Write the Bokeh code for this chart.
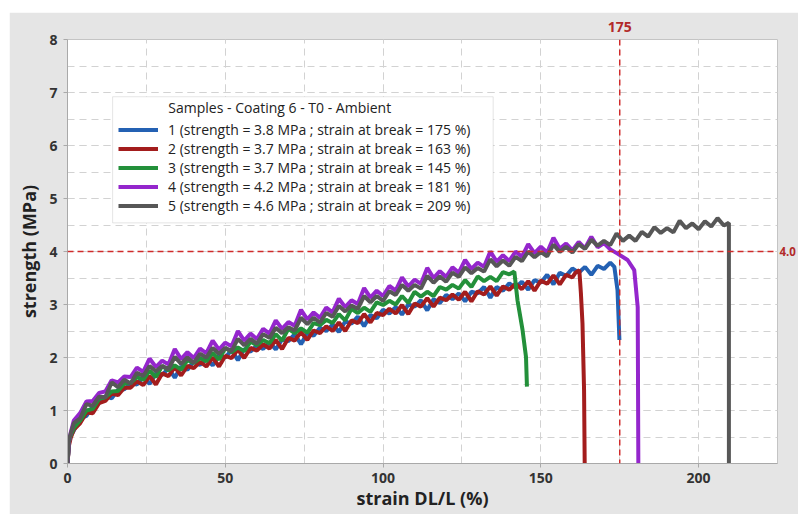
from bokeh.plotting import figure
from bokeh.models import (Range1d, SingleIntervalTicker, FixedTicker, Span, Label,
                          BoxAnnotation, LinearAxis, PrintfTickFormatter)
from bokeh.embed import file_html
from bokeh.resources import INLINE

FONT = "Open Sans"

# ---------------- data ----------------
sample_ids = [1, 2, 3, 4, 5]
sample_strength = [3.8, 3.7, 3.7, 4.2, 4.6]
sample_strain_break = [175, 163, 145, 181, 209]
legend_title = "Samples - Coating 6 - T0 - Ambient"
ref_strain = 175
ref_strength = 4.0
x_axis_title = "strain DL/L (%)"
y_axis_title = "strength (MPa)"

s1_x = [0, 0.5, 1, 2, 4, 6, 8, 10, 12, 14, 16, 18, 20, 22, 24, 26, 28, 30, 32, 34, 36, 38, 40,
        42, 44, 46, 48, 50, 52, 54, 56, 58, 60, 62, 64, 66, 68, 70, 72, 74, 76, 78, 80, 82, 84,
        86, 88, 90, 92, 94, 96, 98, 100, 102, 104, 106, 108, 110, 112, 114, 116, 118, 120, 122,
        124, 126, 128, 130, 132, 134, 136, 138, 140, 142, 144, 146, 148, 150, 152, 154, 156, 158,
        160, 162, 164, 166, 168, 170, 172, 173.3, 174.3, 174.9]
s1_y = [0, 0.40, 0.52, 0.62, 0.85, 0.90, 1.08, 1.14, 1.27, 1.23, 1.39, 1.40, 1.52, 1.49, 1.63,
        1.50, 1.70, 1.67, 1.80, 1.62, 1.83, 1.77, 1.93, 1.86, 1.98, 1.85, 2.04, 2.00, 2.14, 1.95,
        2.16, 2.11, 2.23, 2.16, 2.29, 2.15, 2.34, 2.31, 2.44, 2.25, 2.47, 2.41, 2.56, 2.50, 2.62,
        2.48, 2.68, 2.64, 2.77, 2.59, 2.80, 2.74, 2.90, 2.83, 2.95, 2.81, 3.00, 2.96, 3.08, 2.89,
        3.10, 3.03, 3.18, 3.10, 3.21, 3.06, 3.24, 3.21, 3.33, 3.13, 3.33, 3.26, 3.40, 3.32, 3.43,
        3.28, 3.46, 3.41, 3.56, 3.38, 3.60, 3.54, 3.68, 3.60, 3.71, 3.56, 3.73, 3.67, 3.79, 3.71,
        3.27, 2.33]

s2_x = [0, 0.5, 1, 2, 4, 6, 8, 10, 12, 14, 16, 18, 20, 22, 24, 26, 28, 30, 32, 34, 36, 38, 40,
        42, 44, 46, 48, 50, 52, 54, 56, 58, 60, 62, 64, 66, 68, 70, 72, 74, 76, 78, 80, 82, 84,
        86, 88, 90, 92, 94, 96, 98, 100, 102, 104, 106, 108, 110, 112, 114, 116, 118, 120, 122,
        124, 126, 128, 130, 132, 134, 136, 138, 140, 142, 144, 146, 148, 150, 152, 154, 156, 158,
        160, 161, 162.2, 162.7, 163.2, 163.7, 163.9]
s2_y = [0, 0.35, 0.48, 0.64, 0.76, 0.96, 0.95, 1.14, 1.18, 1.32, 1.29, 1.43, 1.43, 1.55, 1.48,
        1.65, 1.49, 1.70, 1.65, 1.82, 1.66, 1.84, 1.80, 1.92, 1.83, 2.00, 1.83, 2.03, 1.99, 2.15,
        1.99, 2.18, 2.13, 2.25, 2.17, 2.33, 2.16, 2.37, 2.32, 2.48, 2.33, 2.51, 2.46, 2.59, 2.50,
        2.66, 2.50, 2.70, 2.65, 2.82, 2.66, 2.84, 2.80, 2.92, 2.83, 2.99, 2.82, 3.02, 2.96, 3.12,
        2.96, 3.13, 3.08, 3.19, 3.09, 3.24, 3.06, 3.25, 3.19, 3.34, 3.17, 3.34, 3.28, 3.39, 3.29,
        3.44, 3.26, 3.45, 3.39, 3.55, 3.38, 3.56, 3.51, 3.60, 3.65, 3.21, 2.64, 1.38, 0]

s3_x = [0, 0.5, 1, 2, 4, 6, 8, 10, 12, 14, 16, 18, 20, 22, 24, 26, 28, 30, 32, 34, 36, 38, 40,
        42, 44, 46, 48, 50, 52, 54, 56, 58, 60, 62, 64, 66, 68, 70, 72, 74, 76, 78, 80, 82, 84,
        86, 88, 90, 92, 94, 96, 98, 100, 102, 104, 106, 108, 110, 112, 114, 116, 118, 120, 122,
        124, 126, 128, 130, 132, 134, 136, 138, 140, 141.6, 142.6, 144.2, 145.3, 145.6]
s3_y = [0, 0.42, 0.53, 0.67, 0.81, 1.00, 1.03, 1.22, 1.25, 1.36, 1.37, 1.51, 1.52, 1.63, 1.58,
        1.75, 1.63, 1.84, 1.76, 1.85, 1.77, 1.95, 1.90, 1.99, 1.93, 2.09, 1.96, 2.18, 2.10, 2.19,
        2.12, 2.30, 2.23, 2.33, 2.27, 2.44, 2.32, 2.54, 2.46, 2.55, 2.47, 2.65, 2.61, 2.71, 2.65,
        2.82, 2.70, 2.92, 2.84, 2.94, 2.86, 3.04, 2.99, 3.07, 3.00, 3.16, 3.03, 3.24, 3.15, 3.24,
        3.16, 3.33, 3.28, 3.37, 3.30, 3.46, 3.33, 3.53, 3.44, 3.52, 3.44, 3.61, 3.57, 3.62, 3.08,
        2.52, 2.01, 1.45]

s4_x = [0, 0.5, 1, 2, 4, 6, 8, 10, 12, 14, 16, 18, 20, 22, 24, 26, 28, 30, 32, 34, 36, 38, 40,
        42, 44, 46, 48, 50, 52, 54, 56, 58, 60, 62, 64, 66, 68, 70, 72, 74, 76, 78, 80, 82, 84,
        86, 88, 90, 92, 94, 96, 98, 100, 102, 104, 106, 108, 110, 112, 114, 116, 118, 120, 122,
        124, 126, 128, 130, 132, 134, 136, 138, 140, 142, 144, 146, 148, 150, 152, 154, 156, 158,
        160, 162, 164, 166, 168, 170, 172, 174.3, 177.5, 179.6, 180.7, 180.9]
s4_y = [0, 0.42, 0.58, 0.81, 0.95, 1.17, 1.18, 1.33, 1.36, 1.57, 1.53, 1.64, 1.63, 1.81, 1.73,
        1.98, 1.82, 1.94, 1.87, 2.16, 1.97, 2.10, 1.99, 2.17, 2.08, 2.32, 2.15, 2.28, 2.21, 2.50,
        2.32, 2.45, 2.35, 2.54, 2.45, 2.70, 2.54, 2.67, 2.60, 2.90, 2.72, 2.85, 2.75, 2.94, 2.85,
        3.11, 2.95, 3.08, 3.01, 3.31, 3.13, 3.26, 3.16, 3.35, 3.26, 3.51, 3.34, 3.47, 3.39, 3.69,
        3.50, 3.63, 3.52, 3.70, 3.60, 3.84, 3.67, 3.79, 3.71, 4.00, 3.81, 3.93, 3.82, 4.00, 3.90,
        4.14, 3.97, 4.09, 3.98, 4.26, 4.05, 4.15, 4.02, 4.18, 4.06, 4.28, 4.08, 4.16, 4.04, 3.96,
        3.84, 3.65, 2.95, 0]

s5_x = [0, 0.5, 1, 2, 4, 6, 8, 10, 12, 14, 16, 18, 20, 22, 24, 26, 28, 30, 32, 34, 36, 38, 40,
        42, 44, 46, 48, 50, 52, 54, 56, 58, 60, 62, 64, 66, 68, 70, 72, 74, 76, 78, 80, 82, 84,
        86, 88, 90, 92, 94, 96, 98, 100, 102, 104, 106, 108, 110, 112, 114, 116, 118, 120, 122,
        124, 126, 128, 130, 132, 134, 136, 138, 140, 142, 144, 146, 148, 150, 152, 154, 156, 158,
        160, 162, 164, 166, 168, 170, 172, 174, 176, 178, 180, 182, 184, 186, 188, 190, 192, 194,
        196, 198, 200, 202, 204, 206, 208, 209.6, 209.6]
s5_y = [0, 0.45, 0.56, 0.76, 0.85, 1.12, 1.09, 1.26, 1.25, 1.53, 1.44, 1.58, 1.51, 1.71, 1.65,
        1.84, 1.74, 1.84, 1.78, 2.01, 1.88, 2.00, 1.90, 2.07, 2.00, 2.18, 2.07, 2.18, 2.12, 2.35,
        2.23, 2.35, 2.26, 2.44, 2.37, 2.56, 2.46, 2.57, 2.51, 2.75, 2.63, 2.75, 2.66, 2.84, 2.77,
        2.97, 2.87, 2.98, 2.92, 3.16, 3.04, 3.16, 3.07, 3.25, 3.18, 3.37, 3.26, 3.37, 3.30, 3.54,
        3.41, 3.53, 3.43, 3.60, 3.52, 3.70, 3.59, 3.69, 3.62, 3.85, 3.72, 3.83, 3.73, 3.90, 3.82,
        4.00, 3.89, 3.99, 3.91, 4.13, 3.99, 4.09, 3.98, 4.14, 4.05, 4.22, 4.11, 4.20, 4.12, 4.34,
        4.20, 4.30, 4.20, 4.37, 4.28, 4.46, 4.35, 4.44, 4.36, 4.58, 4.44, 4.53, 4.42, 4.57, 4.47,
        4.63, 4.49, 4.54, 0]

series_x = [s1_x, s2_x, s3_x, s4_x, s5_x]
series_y = [s1_y, s2_y, s3_y, s4_y, s5_y]
series_colors = ["#2461b3", "#a31d1d", "#23903a", "#9426cc", "#575757"]

# ---------------- figure ----------------
p = figure(width=789, height=502, output_backend="svg", toolbar_location=None,
           x_range=Range1d(0, 225), y_range=Range1d(0, 8),
           min_border_left=58, min_border_right=20, min_border_top=27, min_border_bottom=51,
           margin=(12, 0, 0, 9))
p.border_fill_color = "#e5e5e5"
p.background_fill_color = "white"
p.outline_line_color = "#c4c4c4"

p.xaxis.ticker = SingleIntervalTicker(interval=50, num_minor_ticks=2)
p.yaxis.ticker = SingleIntervalTicker(interval=1, num_minor_ticks=2)
for g in (p.xgrid, p.ygrid):
    g.grid_line_color = "#d2d2d2"
    g.grid_line_dash = "7 5"
    g.minor_grid_line_color = "#d2d2d2"
    g.minor_grid_line_dash = "7 5"

for ax in (p.xaxis, p.yaxis):
    ax.axis_line_color = "#a9a9a9"
    ax.major_tick_line_color = "#a9a9a9"
    ax.major_tick_out = 4
    ax.major_tick_in = 0
    ax.minor_tick_line_color = None
    ax.minor_tick_out = 0
    ax.major_label_text_font = FONT
    ax.major_label_text_font_size = "14px"
    ax.major_label_text_font_style = "bold"
    ax.major_label_text_color = "#333333"
    ax.axis_label_text_font = FONT
    ax.axis_label_text_font_size = "18px"
    ax.axis_label_text_font_style = "bold"
    ax.axis_label_text_color = "#222222"
p.xaxis.major_label_standoff = 5
p.xaxis.axis_label_standoff = 0
p.yaxis.major_label_standoff = 6
p.yaxis.axis_label_standoff = 5
p.xaxis.axis_label = x_axis_title
p.yaxis.axis_label = y_axis_title

# reference lines and their value labels
ref_col = "#d02a2a"
p.add_layout(Span(location=ref_strain, dimension="height", line_color=ref_col,
                  line_dash="6 4", line_width=1.5))
p.add_layout(Span(location=ref_strength, dimension="width", line_color=ref_col,
                  line_dash="6 4", line_width=1.5))

top_ax = LinearAxis(ticker=FixedTicker(ticks=[ref_strain]), axis_line_color=None,
                    major_tick_line_color=None, minor_tick_line_color=None,
                    major_tick_out=0, minor_tick_out=0, major_label_standoff=8,
                    major_label_text_font=FONT, major_label_text_font_size="14px",
                    major_label_text_font_style="bold", major_label_text_color="#b22a2a")
p.add_layout(top_ax, "above")

right_ax = LinearAxis(ticker=FixedTicker(ticks=[ref_strength]),
                      formatter=PrintfTickFormatter(format="%.1f"), axis_line_color=None,
                      major_tick_line_color=None, minor_tick_line_color=None,
                      major_tick_out=0, minor_tick_out=0, major_label_standoff=2,
                      major_label_text_font=FONT, major_label_text_font_size="11.5px",
                      major_label_text_font_style="bold", major_label_text_color="#b22a2a")
p.add_layout(right_ax, "right")

# legend box + title
p.add_layout(BoxAnnotation(left=14.3, right=134.9, bottom=4.54, top=6.92,
                           fill_color="white", fill_alpha=1.0,
                           line_color="#a8a8a8", line_width=1))
p.add_layout(Label(x=31.96, y=6.72, text=legend_title, text_baseline="middle",
                   text_font=FONT, text_font_size="14px", text_color="#222222"))

for i in range(5):
    lbl = (f"{sample_ids[i]} (strength = {sample_strength[i]} MPa ; "
           f"strain at break = {sample_strain_break[i]} %)")
    p.line(series_x[i], series_y[i], line_color=series_colors[i], line_width=4,
           legend_label=lbl)

lg = p.legend[0]
lg.location = (51, 248)
lg.border_line_color = None
lg.background_fill_alpha = 0
lg.padding = 0
lg.margin = 0
lg.spacing = 0
lg.label_height = 19
lg.glyph_height = 19
lg.glyph_width = 40
lg.label_standoff = 10
lg.label_text_font = FONT
lg.label_text_font_size = "14px"
lg.label_text_color = "#222222"

open("out.html", "w").write(file_html(p, INLINE))
